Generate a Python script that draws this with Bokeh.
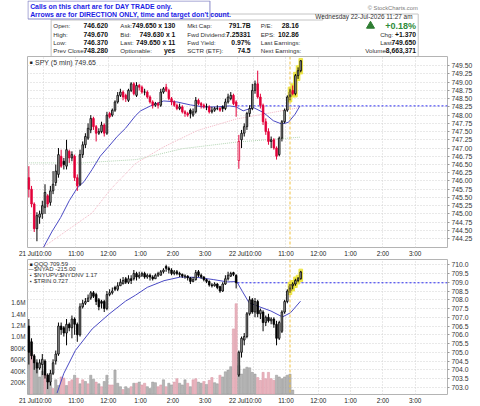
import numpy as np
from bokeh.plotting import figure
from bokeh.layouts import column
from bokeh.models import (Range1d, LinearAxis, FixedTicker, Grid, Span, PrintfTickFormatter)
from bokeh.core.properties import value
from bokeh.embed import file_html
from bokeh.resources import INLINE

FONT = "Liberation Sans"

# ---------------- data ----------------
slots = 156                      # 5-min slots, two sessions of 78
day_starts = [0, 78]
day_labels = ["21 Jul", "22 Jul"]
hour_ticks = [6, 18, 30, 42, 54, 66, 84, 96, 108, 120, 132, 144]
hour_labels = ["10:00", "11:00", "12:00", "1:00", "2:00", "3:00",
               "10:00", "11:00", "12:00", "1:00", "2:00", "3:00"]

spy_open = [746.10, 745.75, 745.30, 744.55, 744.90, 745.00, 745.20, 745.55, 745.35, 745.70,
            745.95, 746.20, 746.75, 746.60, 746.45, 746.90, 746.70, 746.75, 746.10, 745.90,
            746.80, 747.10, 747.30, 747.55, 747.90, 747.65, 747.45, 747.50, 747.70, 747.45,
            748.05, 748.00, 748.15, 748.40, 748.60, 748.70, 748.60, 748.45, 748.75, 748.95,
            748.60, 748.90, 748.85, 748.70, 748.70, 748.55, 748.40, 748.30, 748.35, 748.30,
            748.70, 748.85, 748.75, 748.50, 748.40, 748.30, 748.20, 748.25, 748.10, 748.05,
            748.15, 748.00, 748.10, 748.45, 748.35, 748.30, 748.25, 748.25, 748.10, 748.15,
            748.20, 748.20, 748.25, 748.20, 748.40, 748.50, 748.60, 748.40,
            746.62, 747.25, 747.45, 747.65, 748.05, 748.20, 748.75, 748.95, 748.55, 748.30,
            747.80, 747.50, 747.20, 747.25, 747.00, 746.80, 747.30, 747.80, 748.15, 748.55,
            748.75, 748.65, 749.20, 749.35]
spy_high = [746.45, 745.85, 745.35, 745.05, 745.10, 745.40, 745.90, 745.60, 745.85, 746.30,
            746.50, 747.00, 746.95, 746.70, 747.25, 746.95, 746.90, 746.80, 746.20, 746.95,
            747.20, 747.45, 747.75, 748.00, 747.95, 747.70, 747.60, 747.80, 747.75, 748.10,
            748.10, 748.20, 748.45, 748.70, 748.80, 748.75, 748.65, 748.80, 749.00, 749.00,
            749.00, 748.95, 748.90, 748.80, 748.75, 748.60, 748.45, 748.40, 748.40, 748.80,
            748.85, 748.95, 748.80, 748.55, 748.45, 748.35, 748.35, 748.30, 748.15, 748.10,
            748.20, 748.20, 748.55, 748.50, 748.40, 748.35, 748.35, 748.30, 748.25, 748.25,
            748.30, 748.25, 748.30, 748.50, 748.65, 748.70, 748.65, 748.45,
            747.40, 747.55, 747.75, 748.10, 748.30, 748.95, 749.05, 749.35, 748.65, 748.35,
            747.90, 747.60, 747.35, 747.30, 747.05, 747.35, 747.85, 748.20, 748.60, 748.80,
            748.90, 749.25, 749.45, 749.67]
spy_low = [745.50, 745.20, 744.45, 744.17, 744.70, 744.85, 745.00, 745.20, 745.25, 745.60,
           745.85, 746.10, 746.40, 746.35, 746.35, 746.55, 746.60, 746.00, 745.70, 745.85,
           746.70, 747.00, 747.25, 747.45, 747.55, 747.20, 747.40, 747.45, 747.35, 747.40,
           747.90, 747.95, 748.10, 748.35, 748.55, 748.45, 748.40, 748.40, 748.70, 748.60,
           748.55, 748.75, 748.65, 748.60, 748.50, 748.35, 748.20, 748.25, 748.20, 748.25,
           748.65, 748.70, 748.45, 748.30, 748.25, 748.15, 748.15, 748.05, 747.95, 747.95,
           747.90, 747.95, 748.05, 748.30, 748.20, 748.20, 748.15, 748.05, 748.05, 748.10,
           748.15, 748.10, 748.10, 748.15, 748.35, 748.45, 748.30, 747.95,
           746.37, 747.00, 747.35, 747.55, 747.95, 748.15, 748.65, 748.50, 748.20, 747.70,
           747.40, 747.10, 747.00, 746.95, 746.65, 746.75, 747.20, 747.75, 748.10, 748.45,
           748.60, 748.60, 749.10, 749.30]
spy_close = [745.75, 745.30, 744.55, 744.95, 745.00, 745.25, 745.65, 745.30, 745.70, 745.90,
             746.30, 746.80, 746.45, 746.50, 746.95, 746.70, 746.80, 746.10, 745.85, 746.80,
             747.10, 747.35, 747.60, 747.90, 747.65, 747.45, 747.50, 747.70, 747.45, 748.00,
             747.95, 748.15, 748.40, 748.60, 748.70, 748.55, 748.50, 748.75, 748.95, 748.65,
             748.90, 748.85, 748.70, 748.70, 748.55, 748.40, 748.30, 748.35, 748.30, 748.70,
             748.80, 748.75, 748.50, 748.40, 748.30, 748.20, 748.25, 748.10, 748.05, 748.00,
             748.05, 748.10, 748.45, 748.35, 748.30, 748.25, 748.25, 748.10, 748.15, 748.20,
             748.20, 748.15, 748.20, 748.40, 748.55, 748.60, 748.35, 748.28,
             747.20, 747.45, 747.65, 748.05, 748.20, 748.75, 748.95, 748.55, 748.30, 747.80,
             747.50, 747.20, 747.25, 747.00, 746.75, 747.30, 747.80, 748.15, 748.55, 748.70,
             748.65, 749.20, 749.35, 749.65]
spy_prev_close = 748.28

spy_ma_idx = [5.4, 8.5, 11.8, 15.0, 18.0, 20.5, 23.5, 26.5, 29.7, 32.8, 35.9, 39.6, 41.5, 45.2,
              50.1, 55.0, 60.0, 64.8, 69.8, 74.5, 77.0, 79.6, 83.4, 87.1, 90.8, 93.9, 96.4,
              98.9, 100.7]
spy_ma_val = [743.98, 744.45, 744.89, 745.40, 745.79, 745.98, 746.35, 746.75, 747.05, 747.35,
              747.60, 747.98, 748.13, 748.28, 748.43, 748.40, 748.31, 748.25, 748.25, 748.28,
              748.25, 748.13, 748.23, 748.08, 747.83, 747.73, 747.78, 748.03, 748.28]
spy_ma2_idx = [5.0, 23.5, 30.4, 39.6, 50.0, 62.5, 77.0, 87.0, 100.7]
spy_ma2_val = [743.97, 745.03, 745.75, 746.53, 747.03, 747.53, 747.88, 748.03, 748.23]
spy_ma3_idx = [0.0, 20.0, 40.0, 57.0, 77.0, 100.7]
spy_ma3_val = [746.55, 746.55, 746.65, 746.98, 747.18, 747.33]

qqq_open = [706.50, 705.60, 704.80, 704.40, 704.10, 704.30, 704.50, 703.70, 703.30, 703.80,
            704.50, 704.90, 706.50, 706.40, 706.10, 706.60, 706.40, 706.90, 706.60, 706.00,
            707.60, 707.80, 707.90, 708.10, 708.40, 708.30, 708.00, 707.90, 707.90, 707.50,
            708.30, 708.40, 708.70, 708.60, 708.80, 708.90, 709.20, 709.00, 709.20, 709.20,
            709.50, 709.30, 709.40, 709.50, 709.30, 709.40, 709.30, 709.20, 709.40, 709.40,
            709.60, 709.90, 709.80, 709.70, 709.50, 709.60, 709.50, 709.45, 709.35, 709.35,
            709.25, 709.05, 709.15, 709.60, 709.40, 709.30, 709.15, 709.05, 708.85, 708.80,
            708.90, 708.75, 708.50, 708.90, 709.20, 709.35, 709.55, 709.40,
            703.70, 705.00, 705.70, 705.90, 707.20, 708.00, 707.30, 707.90, 707.20, 707.30,
            706.70, 707.00, 706.80, 706.90, 706.60, 705.80, 706.20, 707.30, 707.90, 708.50,
            708.80, 708.90, 709.10, 709.20]
qqq_high = [706.90, 705.80, 704.90, 704.60, 704.60, 704.90, 704.60, 703.80, 704.00, 704.60,
            705.10, 706.70, 706.70, 706.50, 706.90, 706.70, 707.10, 707.00, 706.70, 707.80,
            708.00, 708.10, 708.30, 708.50, 708.50, 708.40, 708.10, 708.00, 708.00, 708.50,
            708.60, 708.70, 708.80, 709.00, 709.20, 709.30, 709.30, 709.40, 709.40, 709.70,
            709.60, 709.60, 709.60, 709.60, 709.50, 709.50, 709.40, 709.50, 709.60, 709.70,
            709.80, 710.00, 709.90, 709.80, 709.70, 709.70, 709.60, 709.50, 709.45, 709.40,
            709.30, 709.30, 709.70, 709.70, 709.50, 709.35, 709.20, 709.10, 708.95, 709.00,
            708.95, 708.80, 709.00, 709.40, 709.60, 709.60, 709.60, 709.45,
            705.10, 705.90, 706.10, 707.30, 708.20, 708.10, 708.10, 708.00, 707.50, 707.40,
            707.10, 707.20, 707.00, 707.00, 706.80, 706.80, 707.40, 708.00, 708.60, 708.90,
            709.00, 709.20, 709.30, 709.65]
qqq_low = [704.30, 704.60, 704.00, 703.80, 704.00, 703.70, 703.50, 702.90, 703.10, 703.70,
           704.30, 704.80, 706.00, 705.90, 705.40, 706.20, 705.80, 706.00, 705.60, 705.90,
           707.50, 707.70, 707.90, 708.00, 708.10, 707.70, 707.40, 707.50, 707.30, 707.40,
           708.20, 708.30, 708.50, 708.50, 708.80, 708.90, 708.90, 708.90, 708.90, 709.10,
           709.10, 709.20, 709.30, 709.20, 709.20, 709.10, 709.10, 709.20, 709.30, 709.40,
           709.50, 709.60, 709.50, 709.40, 709.40, 709.40, 709.30, 709.25, 709.20, 709.10,
           708.90, 709.00, 709.10, 709.30, 709.20, 709.05, 708.95, 708.75, 708.70, 708.75,
           708.60, 708.40, 708.45, 708.85, 709.10, 709.30, 709.35, 708.65,
           703.60, 704.70, 705.40, 705.80, 707.10, 707.20, 707.00, 707.00, 706.90, 706.20,
           706.50, 706.70, 706.60, 706.40, 705.40, 705.70, 706.10, 707.20, 707.80, 708.40,
           708.60, 708.80, 709.00, 709.15]
qqq_close = [705.00, 704.80, 704.40, 704.10, 704.40, 704.60, 703.70, 703.30, 703.80, 704.40,
             704.90, 706.50, 706.30, 706.10, 706.60, 706.40, 706.90, 706.60, 706.00, 707.60,
             707.80, 707.90, 708.10, 708.40, 708.20, 707.90, 707.60, 707.80, 707.50, 708.30,
             708.40, 708.50, 708.60, 708.80, 709.00, 709.10, 709.00, 709.20, 709.10, 709.50,
             709.30, 709.40, 709.50, 709.30, 709.40, 709.30, 709.20, 709.40, 709.50, 709.60,
             709.70, 709.80, 709.70, 709.50, 709.60, 709.50, 709.45, 709.35, 709.35, 709.25,
             709.05, 709.15, 709.55, 709.40, 709.30, 709.15, 709.05, 708.85, 708.80, 708.90,
             708.70, 708.50, 708.90, 709.20, 709.40, 709.50, 709.45, 708.97,
             705.00, 705.80, 705.90, 707.20, 708.00, 707.30, 707.90, 707.20, 707.40, 706.70,
             707.00, 706.80, 706.90, 706.60, 705.80, 706.70, 707.30, 707.90, 708.50, 708.80,
             708.90, 709.10, 709.20, 709.59]
qqq_prev_close = 708.97

qqq_ma_idx = [10.5, 13.0, 17.3, 23.5, 29.7, 35.9, 39.6, 44.0, 50.2, 56.3, 62.5, 68.7, 73.7,
              77.2, 79.3, 81.8, 84.9, 89.9, 94.2, 97.2, 100.9]
qqq_ma_val = [702.68, 703.80, 705.11, 706.33, 707.17, 707.92, 708.26, 708.71, 709.09, 709.30,
              709.28, 709.15, 709.02, 709.04, 708.48, 707.83, 707.64, 707.36, 707.02, 707.26,
              707.92]

volume = [950000, 750000, 600000, 450000, 300000, 400000, 350000, 280000, 200000, 100000,
          250000, 150000, 300000, 280000, 150000, 220000, 250000, 330000, 280000, 180000,
          250000, 220000, 180000, 330000, 260000, 210000, 180000, 130000, 220000, 330000,
          160000, 160000, 420000, 190000, 130000, 80000, 130000, 100000, 130000, 190000,
          190000, 210000, 160000, 190000, 130000, 100000, 210000, 200000, 130000, 160000,
          250000, 130000, 190000, 160000, 210000, 270000, 190000, 160000, 250000, 190000,
          130000, 250000, 270000, 210000, 190000, 220000, 170000, 240000, 290000, 200000,
          180000, 330000, 300000, 390000, 420000, 480000, 1140000, 1580000,
          500000, 350000, 440000, 470000, 460000, 380000, 350000, 290000, 240000, 380000,
          270000, 380000, 270000, 240000, 330000, 300000, 270000, 300000, 330000, 350000,
          70000]
volume_down = [0, 1, 0, 0, 0, 0, 1, 0, 0, 1, 0, 0, 1, 1, 0, 1, 1, 0, 1, 0,
               1, 0, 1, 0, 0, 1, 0, 1, 0, 0, 1, 1, 0, 0, 0, 1, 0, 0, 1, 0,
               1, 0, 1, 1, 0, 0, 0, 0, 1, 1, 0, 1, 0, 0, 1, 1, 0, 0, 0, 1,
               0, 1, 1, 0, 0, 1, 0, 1, 1, 0, 0, 1, 0, 0, 0, 0, 1, 1,
               0, 0, 0, 0, 0, 0, 0, 1, 1, 1, 1, 1, 1, 1, 0, 0, 0, 0, 0, 0, 0]
vol_ticks = [200000, 400000, 600000, 800000, 1000000, 1200000, 1400000, 1600000]
vol_tick_labels = ["200K", "400K", "600K", "800K", "1.0M", "1.2M", "1.4M", "1.6M"]

spy_yticks = [744.25, 744.50, 744.75, 745.00, 745.25, 745.50, 745.75, 746.00, 746.25, 746.50,
              746.75, 747.00, 747.25, 747.50, 747.75, 748.00, 748.25, 748.50, 748.75, 749.00,
              749.25, 749.50]
qqq_yticks = [703.0, 703.5, 704.0, 704.5, 705.0, 705.5, 706.0, 706.5, 707.0, 707.5, 708.0,
              708.5, 709.0, 709.5, 710.0]

highlight_bars = [97, 98, 99, 100, 101]
marker_bar = 97

notice = ["Calls on this chart are for DAY TRADE only.",
          "Arrows are for DIRECTION ONLY, time and target don't count."]
info_lab1 = ["Open:", "High:", "Low:", "Prev Close:"]
info_val1 = ["746.620", "749.670", "746.370", "748.280"]
info_lab2 = ["Ask:", "Bid:", "Last:", "Optionable:"]
info_val2 = ["749.650 x 130", "749.630 x 1", "749.650 x 11", "yes"]
info_lab3 = ["Mkt Cap:", "Fwd Dividend:", "Fwd Yield:", "SCTR (ETF):"]
info_val3 = ["791.7B", "7.25331", "0.97%", "74.5"]
info_lab4 = ["P/E:", "EPS:", "Last Earnings:", "Next Earnings:"]
info_val4 = ["28.16", "102.86", "", ""]
date_text = "Wednesday  22-Jul-2026  11:27 am"
chg_pct = "+0.18%"
right_lab = ["Chg:", "Last:", "Volume:"]
right_val = ["+1.370", "749.650", "8,663,371"]
copyright_text = "\u00a9 StockCharts.com"
spy_legend = "SPY (5 min) 749.65"
qqq_legend = ["QQQ 709.59", "$NYAD -215.00", "$NYUPV:$NYDNV 1.17", "$TRIN 0.727"]
qqq_icons = ["\u25a0", "\u2014", "\u25aa", "\u25aa"]

# ---------------- layout constants ----------------
W = 480
FL, FR = 27, 33
FW = W - FL - FR
PPX = FW / slots
TXT = "#333333"
GRID = "#d2d2d2"
XLAB = "6.4px"

x_range = Range1d(0, slots)


def tx(fig, xs, ys, texts, size, align="left", bold=False, color=TXT, **kw):
    fig.text(x=list(xs), y=list(ys), text=list(texts), text_font=value(FONT),
             text_font_size=size, text_align=align, text_baseline="middle",
             text_color=color, text_font_style="bold" if bold else "normal", **kw)


# ---------------- header ----------------
hdr = figure(width=W, height=56, x_range=Range1d(0, W), y_range=Range1d(56, 0),
             output_backend="svg", toolbar_location=None, title=None, min_border=0,
             x_axis_location=None, y_axis_location=None)
hdr.outline_line_color = None
hdr.xgrid.visible = False
hdr.ygrid.visible = False

hdr.quad(left=[27], right=[446.5], top=[13.5], bottom=[56.5], fill_color=None,
         line_color="#c4c4c4", line_width=1)
hdr.segment(x0=[27, 337.5], y0=[19.5, 13.5], x1=[337.5, 337.5], y1=[19.5, 19.5],
            line_color="#c4c4c4", line_width=1)
hdr.quad(left=[0.5], right=[208.5], top=[0.5], bottom=[18.5], fill_color="white",
         line_color="#8a8ac8", line_width=1)
tx(hdr, [3, 3], [5.5, 13.5], notice, "6.9px", bold=True, color="#1c1ce6")
tx(hdr, [446], [7], [copyright_text], "5.8px", align="right", color="#7a7a7a")
tx(hdr, [444], [16.3], [date_text], "6.4px", align="right")

rows = [25.2, 33.5, 41.8, 50.2]
LAB, VAL = "6.2px", "6.8px"
tx(hdr, [29.5] * 4, rows, info_lab1, LAB)
tx(hdr, [92] * 4, rows, info_val1, VAL, align="right", bold=True, color="#111")
tx(hdr, [106] * 4, rows, info_lab2, LAB)
tx(hdr, [169] * 4, rows, info_val2, VAL, align="right", bold=True, color="#111")
tx(hdr, [182.5] * 4, rows, info_lab3, LAB)
tx(hdr, [255] * 4, rows, info_val3, VAL, align="right", bold=True, color="#111")
tx(hdr, [266.5] * 4, rows, info_lab4, LAB)
tx(hdr, [310] * 4, rows, info_val4, VAL, align="right", bold=True, color="#111")
hdr.scatter(x=[392], y=[25.4], marker="triangle", size=8, fill_color="#2e7d32",
            line_color="#2e7d32")
tx(hdr, [444], [25.2], [chg_pct], "9px", align="right", bold=True, color="#2e8b3a")
tx(hdr, [403, 403, 386], rows[1:], right_lab, LAB)
tx(hdr, [444] * 3, rows[1:], right_val, VAL, align="right", bold=True, color="#111")


# ---------------- panels ----------------
def make_panel(height, y0, y1, yticks, fmt):
    p = figure(width=W, height=height, x_range=x_range, y_range=Range1d(y0, y1),
               output_backend="svg", toolbar_location=None, title=None,
               x_axis_location="below", y_axis_location="right",
               min_border_left=FL, min_border_right=FR, min_border_top=0, min_border_bottom=0)
    p.outline_line_color = "#b4b4b4"
    p.xgrid.visible = False
    p.ygrid.visible = False
    grid_x = sorted(hour_ticks + day_starts[1:])
    p.add_layout(Grid(dimension=0, ticker=FixedTicker(ticks=grid_x), grid_line_color=GRID,
                      grid_line_dash="1 2", grid_line_width=1), "center")
    p.add_layout(Grid(dimension=1, ticker=FixedTicker(ticks=yticks), grid_line_color=GRID,
                      grid_line_dash="1 2", grid_line_width=1), "center")
    ax = p.yaxis[0]
    ax.ticker = FixedTicker(ticks=yticks)
    ax.formatter = PrintfTickFormatter(format=fmt)
    ax.major_label_text_font = FONT
    ax.major_label_text_font_size = "6.8px"
    ax.major_label_text_color = TXT
    ax.axis_line_color = None
    ax.major_tick_line_color = "#999999"
    ax.major_tick_out = 2
    ax.major_tick_in = 0
    ax.minor_tick_line_color = None
    ax.major_label_standoff = 2

    xa = p.xaxis[0]
    xa.ticker = FixedTicker(ticks=sorted(day_starts + hour_ticks))
    labels = dict(zip(hour_ticks, hour_labels))
    labels.update(zip(day_starts, day_labels))
    xa.major_label_overrides = labels
    xa.major_label_text_font = FONT
    xa.major_label_text_font_size = XLAB
    xa.major_label_text_color = "#222222"
    xa.axis_line_color = None
    xa.major_tick_line_color = None
    xa.minor_tick_line_color = None
    xa.major_tick_out = 0
    xa.major_tick_in = 0
    xa.major_label_standoff = 2
    return p


def draw_candles(p, o, h, l, c, red_rule, hi_pad):
    o, h, l, c = (np.asarray(a, dtype=float) for a in (o, h, l, c))
    n = len(c)
    x = np.arange(n) + 0.5
    hb = np.asarray(highlight_bars)
    p.vbar(x=x[hb], width=1.35, top=h[hb] + hi_pad, bottom=l[hb] - hi_pad,
           fill_color="#ece43c", line_color="#ece43c", fill_alpha=0.9, line_alpha=0.9)
    prev = np.concatenate([[o[0]], c[:-1]])
    down = (c < prev) if red_rule else np.zeros(n, dtype=bool)
    hollow = c >= o
    line_col = np.where(down, "#e3003a", "#000000")
    hollow_fill = np.where(down, "#ffffff", "#a9a9a9")
    fill = np.where(hollow, hollow_fill, line_col)
    p.segment(x0=x, y0=l, x1=x, y1=h, line_color=list(line_col), line_width=1)
    p.vbar(x=x, width=0.6, top=np.maximum(o, c), bottom=np.minimum(o, c),
           fill_color=list(fill), line_color=list(line_col), line_width=0.8)


def px_to_data(p_y0, p_y1, frame_h, px_x, px_y_from_top):
    return ((px_x - FL) / PPX, p_y1 - px_y_from_top * (p_y1 - p_y0) / frame_h)


# top panel (SPY): frame about 194 px high, time axis row below it
TOP_FRAME = 194
top_y0, top_y1 = 743.98, 749.78
top = make_panel(203, top_y0, top_y1, spy_yticks, "%.2f")
top.line(x=np.asarray(spy_ma3_idx) + 0.5, y=spy_ma3_val, line_color="#b5d6b5",
         line_width=1, line_dash="1 1")
top.line(x=np.asarray(spy_ma2_idx) + 0.5, y=spy_ma2_val, line_color="#f2b6c4",
         line_width=1, line_dash="1 1")
top.line(x=np.asarray(spy_ma_idx) + 0.5, y=spy_ma_val, line_color="#4a4ac4", line_width=1)
top.line(x=[day_starts[1], slots], y=[spy_prev_close] * 2, line_color="#2a2af0",
         line_width=1, line_dash="2 2")
draw_candles(top, spy_open, spy_high, spy_low, spy_close, True, 0.05)
top.add_layout(Span(location=marker_bar + 0.5, dimension="height", line_color="#f0c040",
                    line_dash="3 2", line_width=1))
lx, ly = px_to_data(top_y0, top_y1, TOP_FRAME, 30.5, 5.8)
tx(top, [lx], [ly], ["\u25a0"], "5px", align="center", color="#222")
lx, ly = px_to_data(top_y0, top_y1, TOP_FRAME, 34.5, 5.8)
tx(top, [lx], [ly], [spy_legend], "7px")

# bottom panel (QQQ + volume)
BOT_FRAME = 137
bot_y0, bot_y1 = 702.59, 710.30
bot = make_panel(147, bot_y0, bot_y1, qqq_yticks, "%.1f")
bot.extra_y_ranges = {"vol": Range1d(-7000, 2353000)}
vax = LinearAxis(y_range_name="vol", ticker=FixedTicker(ticks=vol_ticks))
vax.major_label_overrides = dict(zip(vol_ticks, vol_tick_labels))
vax.major_label_text_font = FONT
vax.major_label_text_font_size = "6.4px"
vax.major_label_text_color = TXT
vax.axis_line_color = None
vax.major_tick_line_color = None
vax.minor_tick_line_color = None
vax.major_tick_out = 0
vax.major_tick_in = 0
vax.major_label_standoff = 2
bot.add_layout(vax, "left")

vx = np.arange(len(volume)) + 0.5
vdown = np.asarray(volume_down, dtype=bool)
bot.vbar(x=vx, width=0.82, top=volume, bottom=0, y_range_name="vol",
         fill_color=list(np.where(vdown, "#e9b3bd", "#b6b6b6")),
         line_color=list(np.where(vdown, "#d898a6", "#959595")), line_width=0.5)
bot.line(x=np.asarray(qqq_ma_idx) + 0.5, y=qqq_ma_val, line_color="#4a4ac4", line_width=1)
bot.line(x=[day_starts[1], slots], y=[qqq_prev_close] * 2, line_color="#2a2af0",
         line_width=1, line_dash="2 2")
draw_candles(bot, qqq_open, qqq_high, qqq_low, qqq_close, False, 0.1)
bot.add_layout(Span(location=marker_bar + 0.5, dimension="height", line_color="#f0c040",
                    line_dash="3 2", line_width=1))
for k, (icon, lab) in enumerate(zip(qqq_icons, qqq_legend)):
    lx, ly = px_to_data(bot_y0, bot_y1, BOT_FRAME, 30.5, 4.2 + 5.9 * k)
    tx(bot, [lx], [ly], [icon], "5px", align="center", color="#222")
    lx, ly = px_to_data(bot_y0, bot_y1, BOT_FRAME, 33.5, 4.2 + 5.9 * k)
    tx(bot, [lx], [ly], [lab], "6px")

layout = column(hdr, top, bot, spacing=0)
open("out.html", "w").write(file_html(layout, INLINE))
